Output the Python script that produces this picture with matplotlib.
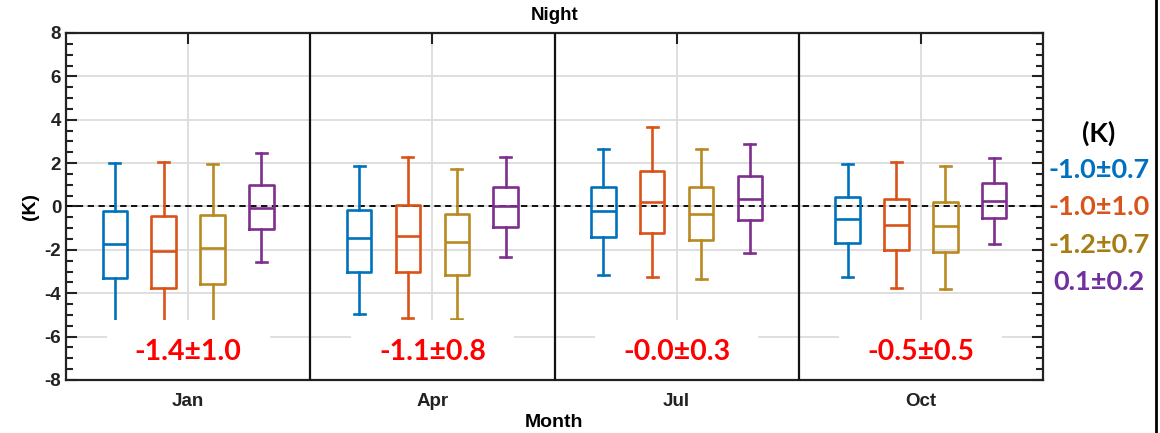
import matplotlib
matplotlib.use("Agg")
import matplotlib.pyplot as plt
from matplotlib.patches import Rectangle
from matplotlib.lines import Line2D

# ---------------- data ----------------
months = ["Jan", "Apr", "Jul", "Oct"]
series_colors = ["#0072BD", "#D95319", "#B98A22", "#7E2F8E"]
text_colors = ["#0070C0", "#D9541A", "#A77C14", "#7030A0"]

# per-series box stats, one value per month: whislo, q1, median, q3, whishi
blue_lo = [-5.6, -4.97, -3.18, -3.23]
blue_q1 = [-3.31, -3.00, -1.41, -1.69]
blue_med = [-1.72, -1.46, -0.23, -0.57]
blue_q3 = [-0.23, -0.18, 0.92, 0.43]
blue_hi = [2.00, 1.85, 2.66, 1.98]

orange_lo = [-6.2, -5.15, -3.24, -3.74]
orange_q1 = [-3.77, -3.00, -1.20, -2.00]
orange_med = [-2.04, -1.38, 0.20, -0.85]
orange_q3 = [-0.43, 0.06, 1.63, 0.35]
orange_hi = [2.03, 2.26, 3.65, 2.06]

gold_lo = [-6.0, -5.18, -3.35, -3.80]
gold_q1 = [-3.57, -3.15, -1.55, -2.12]
gold_med = [-1.92, -1.63, -0.34, -0.92]
gold_q3 = [-0.38, -0.34, 0.88, 0.22]
gold_hi = [1.94, 1.75, 2.63, 1.86]

purple_lo = [-2.55, -2.31, -2.14, -1.72]
purple_q1 = [-1.04, -0.95, -0.63, -0.54]
purple_med = [-0.05, 0.00, 0.34, 0.26]
purple_q3 = [1.00, 0.90, 1.40, 1.08]
purple_hi = [2.46, 2.26, 2.89, 2.22]

month_labels = ["-1.4\u00b11.0", "-1.1\u00b10.8", "-0.0\u00b10.3", "-0.5\u00b10.5"]
series_labels = ["-1.0\u00b10.7", "-1.0\u00b11.0", "-1.2\u00b10.7", "0.1\u00b10.2"]

series = [
    (blue_lo, blue_q1, blue_med, blue_q3, blue_hi),
    (orange_lo, orange_q1, orange_med, orange_q3, orange_hi),
    (gold_lo, gold_q1, gold_med, gold_q3, gold_hi),
    (purple_lo, purple_q1, purple_med, purple_q3, purple_hi),
]
offsets = [-0.3, -0.1, 0.1, 0.3]

# ---------------- figure ----------------
plt.rcParams["font.family"] = ["Liberation Sans", "DejaVu Sans"]
plt.rcParams["font.weight"] = "bold"
plt.rcParams["axes.unicode_minus"] = False

fig = plt.figure(figsize=(11.6, 4.33), dpi=100)
ax = fig.add_axes([66 / 1160, 1 - 380 / 433, (1043 - 66) / 1160, (380 - 33) / 433])
ax.set_axisbelow(True)

lw = 1.9
for si, (lo, q1, med, q3, hi) in enumerate(series):
    stats = []
    for mi in range(len(months)):
        stats.append(dict(whislo=lo[mi], q1=q1[mi], med=med[mi], q3=q3[mi],
                          whishi=hi[mi], fliers=[]))
    pos = [mi + 1 + offsets[si] for mi in range(len(months))]
    c = series_colors[si]
    ax.bxp(stats, positions=pos, widths=0.1, capwidths=0.045, showfliers=False,
           manage_ticks=False,
           boxprops=dict(color=c, linewidth=lw),
           medianprops=dict(color=c, linewidth=lw),
           whiskerprops=dict(color=c, linewidth=lw),
           capprops=dict(color=c, linewidth=lw))

ax.set_xlim(0.5, 4.5)
ax.set_ylim(-8, 8)

# zero line
ax.axhline(0, color="black", lw=1.3, ls=(0, (3.5, 2.5)), zorder=1.9)

# separators
for xs in [1.5, 2.5, 3.5]:
    ax.axvline(xs, color="#111111", lw=1.6, zorder=2.6)

# white label boxes + labels
for mi, lab in enumerate(months):
    x0 = mi + 1
    ax.add_patch(Rectangle((x0 - 0.334, -8), 0.668, 8 - 5.23, facecolor="white",
                           edgecolor="none", zorder=2.4))
    ax.text(x0, -6.7, month_labels[mi], color="#FF0000", ha="center", va="center",
            fontsize=20.5, fontweight="bold", family=["Lato", "DejaVu Sans"], zorder=3)

# grid & ticks
ax.set_yticks(range(-8, 9, 2))
ax.set_yticks([v / 2 for v in range(-16, 17)], minor=True)
ax.set_xticks(range(1, 5))
ax.set_xticklabels(months)
ax.grid(True, which="major", color="#dcdcdc", lw=1.3)
ax.tick_params(axis="both", which="major", direction="in", length=8, width=1.5,
               labelsize=13.5, top=True, right=True, color="#222222")
ax.tick_params(axis="y", which="minor", direction="in", length=5, width=1.5,
               right=True, left=True, color="#222222")
ax.tick_params(axis="x", which="minor", bottom=False, top=False)
ax.tick_params(axis="x", which="major", pad=9)
for lab in ax.get_xticklabels() + ax.get_yticklabels():
    lab.set_fontweight("bold")
    lab.set_color("#222222")
for sp in ax.spines.values():
    sp.set_linewidth(1.6)
    sp.set_color("#222222")

ax.set_title("Night", fontsize=13.5, fontweight="bold", pad=9)
ax.set_xlabel("Month", fontsize=14, fontweight="bold", labelpad=3)
ax.set_ylabel("(K)", fontsize=14, fontweight="bold", labelpad=4)

# right annotations
fig.text(1099 / 1160, 1 - 133 / 433, "(K)", color="black", ha="center", va="center",
         fontsize=19.5, fontweight="bold", family=["Lato", "DejaVu Sans"])
ys = [170, 207, 245, 282]
for si, lab in enumerate(series_labels):
    fig.text(1099 / 1160, 1 - ys[si] / 433, lab, color=text_colors[si], ha="center",
             va="center", fontsize=19.5, fontweight="bold", family=["Lato", "DejaVu Sans"])

# right frame line
fig.add_artist(Line2D([1156 / 1160, 1156 / 1160], [0, 1], color="black", lw=2,
                      transform=fig.transFigure))

fig.savefig("out.png", dpi=100)
